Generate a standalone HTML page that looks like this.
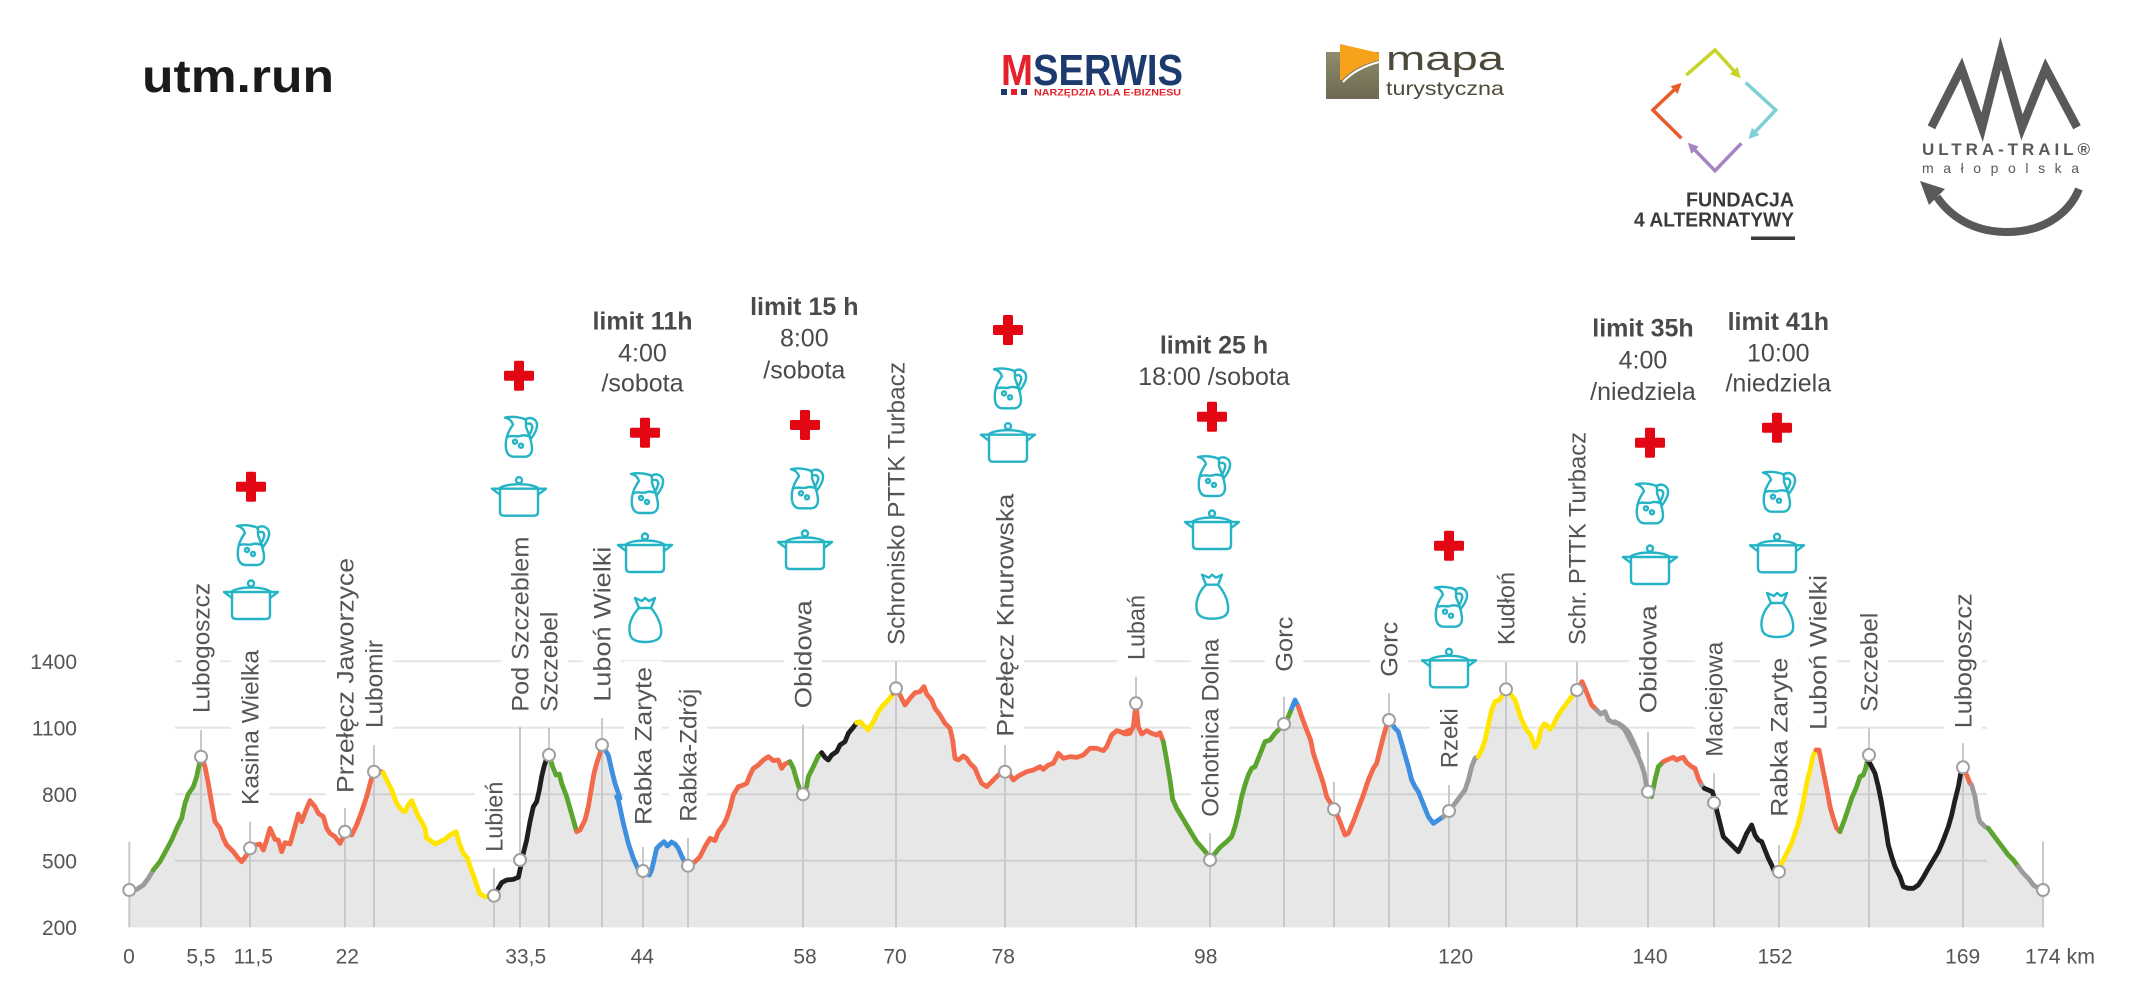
<!DOCTYPE html>
<html><head><meta charset="utf-8"><style>
html,body{margin:0;padding:0;background:#fff;}
svg{display:block;}
.pl polyline{fill:none;stroke-width:4.8;stroke-linejoin:round;stroke-linecap:round;vector-effect:non-scaling-stroke;}
.fl polygon{fill:#e7e7e7;stroke:none;}
.lbl{font-family:"Liberation Sans",sans-serif;font-size:24px;fill:#555;}
.ax{font-family:"Liberation Sans",sans-serif;font-size:21px;fill:#555;}
.lim{font-family:"Liberation Sans",sans-serif;font-size:25px;fill:#4a4a4a;text-anchor:middle;}
.ic{fill:none;stroke:#25b4c5;stroke-width:2.4;stroke-linejoin:round;stroke-linecap:round;}
</style></head><body>
<svg width="2135" height="998" viewBox="0 0 2135 998" xmlns="http://www.w3.org/2000/svg">
<defs>
<g id="cr"><rect x="-15" y="-5" width="30" height="10" rx="1.5" fill="#e30613"/><rect x="-5" y="-15" width="10" height="30" rx="1.5" fill="#e30613"/></g>
<g id="jug" class="ic">
<path d="M-14,-19 Q-8,-18 -6,-12 C-12,-4 -14,4 -13,12 C-12,18 -9,20 -5,20 L6,20 C10,20 13,17 13,12 C13,4 9,-4 7,-10 L7,-17 C3,-19 -6,-21 -14,-19 Z"/>
<path d="M6,-17 C12,-21 19,-17 18,-10 C17,-4 14,-1 12,2"/>
<path d="M9,-13 C12,-14 14,-11 13,-8 C12,-5 11,-3 10,-1"/>
<path d="M-11,0 C-6,-2 -2,1 2,-1 C5,-2 8,-1 11,0"/>
<circle cx="-4" cy="5" r="2"/><circle cx="2" cy="9" r="2"/>
</g>
<g id="pot" class="ic">
<circle cx="0" cy="-16.5" r="3"/>
<path d="M-20,-8 C-14,-14 14,-14 20,-8"/>
<path d="M-19,-2 L-27,-8 L27,-8 L19,-2"/>
<path d="M-19,-8 L-19,15 Q-19,19 -15,19 L15,19 Q19,19 19,15 L19,-8"/>
</g>
<g id="bag" class="ic">
<path d="M-6,-12 C-14,-4 -17,6 -15,14 C-14,20 -8,22 0,22 C8,22 15,20 16,14 C17,6 13,-4 6,-12"/>
<path d="M-6,-12 L-10,-22 L-3,-19 L0,-22 L4,-19 L10,-22 L6,-12 Z"/>
</g>
<marker id="ay" viewBox="0 0 10 10" refX="7" refY="5" markerWidth="3" markerHeight="3" orient="auto"><path d="M0,0 L10,5 L0,10 z" fill="#c9d42b"/></marker>
<marker id="at" viewBox="0 0 10 10" refX="7" refY="5" markerWidth="3" markerHeight="3" orient="auto"><path d="M0,0 L10,5 L0,10 z" fill="#7ecfd6"/></marker>
<marker id="ap" viewBox="0 0 10 10" refX="7" refY="5" markerWidth="3" markerHeight="3" orient="auto"><path d="M0,0 L10,5 L0,10 z" fill="#a585c3"/></marker>
<marker id="ao" viewBox="0 0 10 10" refX="7" refY="5" markerWidth="3" markerHeight="3" orient="auto"><path d="M0,0 L10,5 L0,10 z" fill="#ea5b2a"/></marker>
<linearGradient id="olive" x1="0" y1="0" x2="0" y2="1"><stop offset="0" stop-color="#8f8b6b"/><stop offset="1" stop-color="#6d6a52"/></linearGradient>
</defs>

<!-- HEADER LOGOS -->
<text x="142" y="92" font-family="Liberation Sans, sans-serif" font-weight="bold" font-size="46" fill="#1a1a1a" textLength="192" lengthAdjust="spacingAndGlyphs">utm.run</text>

<text x="1001" y="85" font-family="Liberation Sans, sans-serif" font-weight="bold" font-size="44" fill="#e4202b" textLength="32" lengthAdjust="spacingAndGlyphs">M</text>
<text x="1033" y="85" font-family="Liberation Sans, sans-serif" font-weight="bold" font-size="44" fill="#1c3a6e" textLength="150" lengthAdjust="spacingAndGlyphs">SERWIS</text>
<rect x="1001" y="89" width="6" height="6" fill="#1c3a6e"/><rect x="1011" y="89" width="6" height="6" fill="#e4202b"/><rect x="1021" y="89" width="6" height="6" fill="#1c3a6e"/>
<text x="1034" y="95.5" font-family="Liberation Sans, sans-serif" font-weight="bold" font-size="9" fill="#e4202b" textLength="147" lengthAdjust="spacingAndGlyphs">NARZĘDZIA DLA E-BIZNESU</text>

<rect x="1326" y="52" width="53" height="47" fill="url(#olive)"/>
<path d="M1340,44 L1379,53 L1379,60 Q1355,66 1342,80 L1340,80 Z" fill="#f7a21b"/>
<path d="M1379,62 Q1356,68 1343,82" stroke="#fff" stroke-width="2" fill="none"/>
<text x="1386" y="70" font-family="Liberation Sans, sans-serif" font-size="34" fill="#4d4a3c" textLength="118" lengthAdjust="spacingAndGlyphs">mapa</text>
<text x="1386" y="95" font-family="Liberation Sans, sans-serif" font-size="19" fill="#4d4a3c" textLength="118" lengthAdjust="spacingAndGlyphs">turystyczna</text>

<g fill="none" stroke-width="3.5" stroke-linejoin="miter">
<path d="M1686.4,75 L1715,50 L1738.6,76" stroke="#c9d42b" marker-end="url(#ay)"/>
<path d="M1745.7,82.7 L1775.7,110 L1750.7,136.7" stroke="#7ecfd6" marker-end="url(#at)"/>
<path d="M1741.4,143.3 L1715,170.7 L1690,145" stroke="#a585c3" marker-end="url(#ap)"/>
<path d="M1681.4,138.3 L1652.9,110 L1679.3,85" stroke="#ea5b2a" marker-end="url(#ao)"/>
</g>
<text x="1794" y="206.7" text-anchor="end" font-family="Liberation Sans, sans-serif" font-weight="bold" font-size="20" fill="#3a3a3a" textLength="108" lengthAdjust="spacingAndGlyphs">FUNDACJA</text>
<text x="1794" y="226.7" text-anchor="end" font-family="Liberation Sans, sans-serif" font-weight="bold" font-size="20" fill="#3a3a3a" textLength="160" lengthAdjust="spacingAndGlyphs">4 ALTERNATYWY</text>
<rect x="1751" y="236.5" width="44" height="3.5" fill="#3a3a3a"/>

<polyline points="1931.4,127.3 1961.4,68.3 1982.1,127.3 2000.7,53.3 2022,127.3 2045.7,68.3 2077,127.3" fill="none" stroke="#58595b" stroke-width="8.5" stroke-linejoin="miter"/>
<text x="1922" y="155" font-family="Liberation Sans, sans-serif" font-weight="bold" font-size="17" fill="#58595b" textLength="168" lengthAdjust="spacing">ULTRA-TRAIL®</text>
<text x="1922" y="173" font-family="Liberation Sans, sans-serif" font-size="14" fill="#58595b" textLength="157" lengthAdjust="spacing">małopolska</text>
<path d="M2079,189 C2068,216 2040,233 2004,232 C1972,231 1950,216 1937,197" fill="none" stroke="#58595b" stroke-width="8"/>
<path d="M1920,181 L1945,189 L1929,205 Z" fill="#58595b"/>

<!-- PROFILE FILL -->
<g class="fl">
<polygon transform="translate(100,640) scale(0.333333)" points="88,862 88,750 110,748 130,735 145,715 160,690 180,665 200,628 215,600 230,565 245,535 255,490 265,462 280,440 290,410 300,362 305,352 315,380 325,430 335,490 345,545 360,565 370,595 380,615 400,635 415,655 425,665 440,645 450,625 465,615 480,612 490,630 500,600 510,565 525,598 535,600 545,635 555,608 570,612 585,560 595,522 605,545 620,505 630,482 645,500 655,520 670,530 680,565 690,580 705,590 720,610 730,590 737,578 755,585 770,555 785,515 800,470 812,425 820,395 835,392 850,398 860,420 875,450 890,490 905,510 915,515 925,495 935,482 945,505 955,530 965,545 975,565 980,595 990,600 1005,612 1020,605 1035,598 1050,585 1068,575 1078,610 1090,640 1103,655 1110,680 1120,705 1130,735 1140,762 1155,770 1170,770 1182,765 1195,745 1205,728 1220,720 1240,718 1255,712 1262,680 1270,640 1280,600 1290,545 1300,500 1310,485 1318,450 1325,410 1332,380 1340,355 1350,352 1358,380 1368,405 1378,402 1385,430 1400,470 1410,505 1420,540 1430,575 1440,570 1455,540 1465,500 1475,440 1482,400 1490,370 1500,340 1505,315 1512,325 1525,345 1535,390 1545,430 1545,862"/>
<polygon transform="translate(610,640) scale(0.333333)" points="-15,862 -15,430 25,480 40,550 55,610 70,655 85,688 100,698 118,705 125,690 132,660 140,625 150,615 162,605 172,618 185,606 195,612 205,625 215,648 225,668 240,678 255,665 270,650 285,620 300,595 315,602 325,575 340,555 350,535 360,505 370,465 385,440 400,435 410,430 420,405 430,385 445,375 460,360 475,350 490,362 505,360 515,385 525,372 540,365 550,385 560,420 570,450 580,462 590,440 595,410 610,380 625,348 635,338 645,352 655,360 665,345 680,335 690,315 705,305 715,280 730,262 740,248 750,245 760,255 775,270 790,245 805,215 820,195 835,180 850,160 860,145 870,165 885,195 900,175 915,158 930,155 942,140 950,162 965,180 975,205 990,225 1005,250 1020,265 1028,300 1035,355 1045,360 1060,348 1070,355 1080,370 1095,385 1105,410 1115,430 1130,440 1145,425 1160,410 1175,395 1185,390 1200,405 1210,420 1225,408 1250,395 1270,390 1290,380 1300,388 1315,375 1330,370 1345,340 1360,355 1380,350 1400,352 1420,345 1440,325 1460,325 1480,332 1490,320 1505,285 1520,272 1540,278 1560,270 1560,862"/>
<polygon transform="translate(1120,640) scale(0.333333)" points="0,862 0,275 15,282 30,280 40,260 48,190 55,260 65,282 80,272 95,280 110,285 120,278 130,305 140,360 150,420 158,478 170,505 185,530 200,555 215,580 230,605 245,622 260,640 270,658 285,640 300,622 320,605 335,590 345,560 355,520 365,470 375,435 385,405 395,385 405,380 415,355 425,330 435,305 450,300 465,280 480,265 495,255 505,230 515,205 525,180 535,200 545,230 560,270 572,300 580,340 590,370 600,400 610,430 620,470 632,490 645,510 660,545 675,585 685,580 700,545 715,505 730,465 745,420 760,385 770,370 780,330 790,290 800,255 805,240 815,250 825,265 835,275 845,310 855,345 865,380 875,420 885,440 895,455 905,480 915,505 925,530 940,550 955,540 970,530 988,513 1005,490 1020,470 1035,450 1045,420 1055,380 1065,355 1075,350 1085,330 1095,300 1105,255 1115,210 1125,185 1138,180 1150,160 1158,148 1170,160 1185,180 1195,210 1205,240 1220,270 1232,285 1245,322 1255,305 1262,270 1272,252 1280,255 1290,268 1300,255 1312,230 1325,210 1340,190 1355,170 1365,155 1378,140 1386,125 1395,145 1405,170 1415,195 1430,210 1442,222 1455,215 1465,240 1480,248 1495,250 1510,260 1525,275 1540,305 1555,340 1555,862"/>
<polygon transform="translate(1615,640) scale(0.333333)" points="0,862 0,245 15,255 30,270 40,290 50,310 60,330 70,350 80,375 88,400 93,430 97,450 110,470 120,420 130,380 145,365 160,358 175,352 185,360 195,355 205,352 215,368 230,380 240,385 250,415 260,435 268,445 280,450 292,455 300,480 305,510 315,550 325,590 340,605 355,620 370,635 380,615 395,580 410,555 420,585 430,600 440,605 450,630 460,655 470,675 478,695 490,690 500,670 510,650 520,630 530,610 540,580 550,550 560,510 568,470 575,430 585,390 595,345 603,330 612,330 620,370 630,420 638,460 645,500 655,535 665,565 675,575 690,535 700,505 710,475 725,440 735,410 745,405 752,385 758,358 770,380 780,400 790,440 800,490 810,550 820,615 830,650 840,680 855,710 865,740 880,745 895,745 910,735 925,712 940,685 955,660 970,635 985,600 1000,560 1010,525 1020,480 1030,440 1038,395 1045,385 1055,405 1065,430 1070,435 1080,470 1090,530 1095,545 1110,560 1120,565 1135,585 1150,605 1165,625 1180,645 1195,660 1210,680 1225,700 1240,715 1255,735 1270,745 1285,750 1285,862"/>
</g>

<!-- GRIDLINES -->
<g stroke="rgba(0,0,0,0.1)" stroke-width="2">
<line x1="175" y1="661.3" x2="1987" y2="661.3"/>
<line x1="175" y1="727.8" x2="1987" y2="727.8"/>
<line x1="175" y1="794.3" x2="1987" y2="794.3"/>
<line x1="175" y1="860.8" x2="1987" y2="860.8"/>
</g>

<!-- label background gaps -->
<g fill="#fff">
<rect x="182" y="577" width="38" height="142"/>
<rect x="231" y="644" width="38" height="167"/>
<rect x="326" y="552" width="38" height="247"/>
<rect x="355" y="634" width="38" height="100"/>
<rect x="475" y="776" width="38" height="82"/>
<rect x="501" y="531" width="38" height="187"/>
<rect x="530" y="606" width="38" height="112"/>
<rect x="583" y="541" width="38" height="167"/>
<rect x="624" y="661" width="38" height="170"/>
<rect x="669" y="683" width="38" height="145"/>
<rect x="784" y="594" width="38" height="120"/>
<rect x="877" y="356" width="38" height="295"/>
<rect x="986" y="488" width="38" height="255"/>
<rect x="1117" y="589" width="38" height="77"/>
<rect x="1191" y="633" width="38" height="190"/>
<rect x="1265" y="611" width="38" height="67"/>
<rect x="1370" y="616" width="38" height="67"/>
<rect x="1430" y="702" width="38" height="72"/>
<rect x="1487" y="566" width="38" height="85"/>
<rect x="1558" y="426" width="38" height="225"/>
<rect x="1629" y="599" width="38" height="120"/>
<rect x="1695" y="636" width="38" height="127"/>
<rect x="1760" y="653" width="38" height="170"/>
<rect x="1799" y="569" width="38" height="167"/>
<rect x="1850" y="607" width="38" height="111"/>
<rect x="1944" y="587" width="38" height="147"/>
</g>

<!-- VERTICAL DROP LINES -->
<g stroke="#c9c9c9" stroke-width="2">
<line x1="129.3" y1="841.7" x2="129.3" y2="927.3"/>
<line x1="201" y1="730" x2="201" y2="927.3"/>
<line x1="250" y1="821.7" x2="250" y2="927.3"/>
<line x1="345" y1="808" x2="345" y2="927.3"/>
<line x1="374" y1="745" x2="374" y2="927.3"/>
<line x1="494" y1="868" x2="494" y2="927.3"/>
<line x1="520" y1="726.7" x2="520" y2="927.3"/>
<line x1="549" y1="728" x2="549" y2="927.3"/>
<line x1="602" y1="718" x2="602" y2="927.3"/>
<line x1="643" y1="847" x2="643" y2="927.3"/>
<line x1="688" y1="838" x2="688" y2="927.3"/>
<line x1="803" y1="725" x2="803" y2="927.3"/>
<line x1="896" y1="661.7" x2="896" y2="927.3"/>
<line x1="1005" y1="745" x2="1005" y2="927.3"/>
<line x1="1136" y1="676.7" x2="1136" y2="927.3"/>
<line x1="1210" y1="833" x2="1210" y2="927.3"/>
<line x1="1284" y1="696.7" x2="1284" y2="927.3"/>
<line x1="1334" y1="781.7" x2="1334" y2="927.3"/>
<line x1="1389" y1="693.3" x2="1389" y2="927.3"/>
<line x1="1449" y1="785" x2="1449" y2="927.3"/>
<line x1="1506" y1="661.7" x2="1506" y2="927.3"/>
<line x1="1577" y1="661.7" x2="1577" y2="927.3"/>
<line x1="1648" y1="731.7" x2="1648" y2="927.3"/>
<line x1="1714" y1="773.3" x2="1714" y2="927.3"/>
<line x1="1779" y1="845" x2="1779" y2="927.3"/>
<line x1="1869" y1="728.3" x2="1869" y2="927.3"/>
<line x1="1963" y1="743.3" x2="1963" y2="927.3"/>
<line x1="2043" y1="841.7" x2="2043" y2="927.3"/>
</g>

<!-- PROFILE LINES -->
<g class="pl" transform="translate(100,640) scale(0.333333)">
<polyline stroke="#9b9b9b" points="88,750 110,748 130,735 145,715 160,690"/>
<polyline stroke="#5ba42e" points="160,690 180,665 200,628 215,600 230,565 245,535 255,490 265,462 280,440 290,410 300,362"/>
<polyline stroke="#f26a4b" points="300,362 305,352 315,380 325,430 335,490 345,545 360,565 370,595 380,615 400,635 415,655 425,665 440,645 450,625 465,615 480,612 490,630 500,600 510,565 525,598 535,600 545,635 555,608 570,612 585,560 595,522 605,545 620,505 630,482 645,500 655,520 670,530 680,565 690,580 705,590 720,610 730,590 737,578 755,585 770,555 785,515 800,470 812,425 820,395 835,392 850,398"/>
<polyline stroke="#ffe500" points="850,398 860,420 875,450 890,490 905,510 915,515 925,495 935,482 945,505 955,530 965,545 975,565 980,595 990,600 1005,612 1020,605 1035,598 1050,585 1068,575 1078,610 1090,640 1103,655 1110,680 1120,705 1130,735 1140,762 1155,770 1170,770"/>
<polyline stroke="#9b9b9b" points="1170,770 1182,765 1195,745"/>
<polyline stroke="#1f1f1f" points="1195,745 1205,728 1220,720 1240,718 1255,712 1262,680 1270,640 1280,600 1290,545 1300,500 1310,485 1318,450 1325,410 1332,380 1340,355 1350,352"/>
<polyline stroke="#5ba42e" points="1350,352 1358,380 1368,405 1378,402 1385,430 1400,470 1410,505 1420,540 1430,575"/>
<polyline stroke="#f26a4b" points="1430,575 1440,570 1455,540 1465,500 1475,440 1482,400 1490,370 1500,340 1505,315"/>
<polyline stroke="#3e8fe0" points="1505,315 1512,325 1525,345 1535,390 1545,430 1560,475"/>
</g>
<g class="pl" transform="translate(610,640) scale(0.333333)">
<polyline stroke="#3e8fe0" points="20,470 25,480 40,550 55,610 70,655 85,688 100,698 118,705 125,690 132,660 140,625 150,615 162,605 172,618 185,606 195,612 205,625 215,648 225,668 240,678"/>
<polyline stroke="#f26a4b" points="240,678 255,665 270,650 285,620 300,595 315,602 325,575 340,555 350,535 360,505 370,465 385,440 400,435 410,430 420,405 430,385 445,375 460,360 475,350 490,362 505,360 515,385 525,372 540,365"/>
<polyline stroke="#5ba42e" points="540,365 550,385 560,420 570,450 580,462 590,440 595,410 610,380 625,348 635,338"/>
<polyline stroke="#1f1f1f" points="635,338 645,352 655,360 665,345 680,335 690,315 705,305 715,280 730,262 740,248"/>
<polyline stroke="#ffe500" points="740,248 750,245 760,255 775,270 790,245 805,215 820,195 835,180 850,160"/>
<polyline stroke="#f26a4b" points="850,160 860,145 870,165 885,195 900,175 915,158 930,155 942,140 950,162 965,180 975,205 990,225 1005,250 1020,265 1028,300 1035,355 1045,360 1060,348 1070,355 1080,370 1095,385 1105,410 1115,430 1130,440 1145,425 1160,410 1175,395 1185,390 1200,405 1210,420 1225,408 1250,395 1270,390 1290,380 1300,388 1315,375 1330,370 1345,340 1360,355 1380,350 1400,352 1420,345 1440,325 1460,325 1480,332 1490,320 1505,285 1520,272 1540,278 1560,270"/>
</g>
<g class="pl" transform="translate(1120,640) scale(0.333333)">
<polyline stroke="#f26a4b" points="0,275 15,282 30,280 40,260 48,190 55,260 65,282 80,272 95,280 110,285 120,278 130,305"/>
<polyline stroke="#5ba42e" points="130,305 140,360 150,420 158,478 170,505 185,530 200,555 215,580 230,605 245,622 260,640 270,658 285,640 300,622 320,605 335,590 345,560 355,520 365,470 375,435 385,405 395,385 405,380 415,355 425,330 435,305 450,300 465,280 480,265 495,255 505,230 515,205"/>
<polyline stroke="#3e8fe0" points="515,205 525,180 535,200"/>
<polyline stroke="#f26a4b" points="535,200 545,230 560,270 572,300 580,340 590,370 600,400 610,430 620,470 632,490 645,510 660,545 675,585 685,580 700,545 715,505 730,465 745,420 760,385 770,370 780,330 790,290 800,255 805,240"/>
<polyline stroke="#3e8fe0" points="805,240 815,250 825,265 835,275 845,310 855,345 865,380 875,420 885,440 895,455 905,480 915,505 925,530 940,550 955,540 970,530"/>
<polyline stroke="#9b9b9b" points="970,530 988,513 1005,490 1020,470 1035,450 1045,420 1055,380 1065,355 1075,350"/>
<polyline stroke="#ffe500" points="1075,350 1085,330 1095,300 1105,255 1115,210 1125,185 1138,180 1150,160 1158,148 1170,160 1185,180 1195,210 1205,240 1220,270 1232,285 1245,322 1255,305 1262,270 1272,252 1280,255 1290,268 1300,255 1312,230 1325,210 1340,190 1355,170 1365,155"/>
<polyline stroke="#f26a4b" points="1365,155 1378,140 1386,125 1395,145 1405,170 1415,195 1430,210"/>
<polyline stroke="#9b9b9b" points="1430,210 1442,222 1455,215 1465,240 1480,248 1495,250 1510,260 1525,275 1540,305 1555,340"/>
</g>
<g class="pl" transform="translate(1615,640) scale(0.333333)">
<polyline stroke="#9b9b9b" points="0,245 15,255 30,270 40,290 50,310 60,330 70,350 80,375 88,400 93,430 97,450"/>
<polyline stroke="#5ba42e" points="97,450 110,470 120,420 130,380 145,365"/>
<polyline stroke="#f26a4b" points="145,365 160,358 175,352 185,360 195,355 205,352 215,368 230,380 240,385 250,415 260,435"/>
<polyline stroke="#9b9b9b" points="260,435 268,445"/>
<polyline stroke="#1f1f1f" points="268,445 280,450 292,455 300,480 305,510 315,550 325,590 340,605 355,620 370,635 380,615 395,580 410,555 420,585 430,600 440,605 450,630 460,655 470,675 478,695"/>
<polyline stroke="#ffe500" points="478,695 490,690 500,670 510,650 520,630 530,610 540,580 550,550 560,510 568,470 575,430 585,390 595,345 603,330"/>
<polyline stroke="#f26a4b" points="603,330 612,330 620,370 630,420 638,460 645,500 655,535 665,565 675,575"/>
<polyline stroke="#5ba42e" points="675,575 690,535 700,505 710,475 725,440 735,410 745,405 752,385 758,358"/>
<polyline stroke="#1f1f1f" points="758,358 770,380 780,400 790,440 800,490 810,550 820,615 830,650 840,680 855,710 865,740 880,745 895,745 910,735 925,712 940,685 955,660 970,635 985,600 1000,560 1010,525 1020,480 1030,440 1038,395 1045,385"/>
<polyline stroke="#f26a4b" points="1045,385 1055,405 1065,430 1070,435"/>
<polyline stroke="#9b9b9b" points="1070,435 1080,470 1090,530 1095,545 1110,560 1120,565"/>
<polyline stroke="#5ba42e" points="1120,565 1135,585 1150,605 1165,625 1180,645 1195,660 1210,680"/>
<polyline stroke="#9b9b9b" points="1210,680 1225,700 1240,715 1255,735 1270,745 1285,750"/>
</g>

<!-- MARKERS -->
<g fill="#fff" stroke="#a0a0a0" stroke-width="2">
<circle cx="129.3" cy="890" r="6"/>
<circle cx="201" cy="756.7" r="6"/>
<circle cx="250" cy="848.3" r="6"/>
<circle cx="345" cy="831.7" r="6"/>
<circle cx="374" cy="771.7" r="6"/>
<circle cx="494" cy="895.7" r="6"/>
<circle cx="520" cy="860" r="6"/>
<circle cx="549" cy="755" r="6"/>
<circle cx="602" cy="745" r="6"/>
<circle cx="643" cy="871" r="6"/>
<circle cx="688" cy="865.7" r="6"/>
<circle cx="803" cy="794.3" r="6"/>
<circle cx="896" cy="688.3" r="6"/>
<circle cx="1005" cy="771.7" r="6"/>
<circle cx="1136" cy="703.3" r="6"/>
<circle cx="1210" cy="860" r="6"/>
<circle cx="1284" cy="724" r="6"/>
<circle cx="1334" cy="809.3" r="6"/>
<circle cx="1389" cy="720" r="6"/>
<circle cx="1449" cy="811" r="6"/>
<circle cx="1506" cy="689.3" r="6"/>
<circle cx="1577" cy="690" r="6"/>
<circle cx="1648" cy="791.7" r="6"/>
<circle cx="1714" cy="802.7" r="6"/>
<circle cx="1779" cy="871.7" r="6"/>
<circle cx="1869" cy="755" r="6"/>
<circle cx="1963" cy="767.3" r="6"/>
<circle cx="2043" cy="890" r="6"/>
</g>

<!-- CHECKPOINT LABELS -->
<g class="lbl">
<text transform="translate(209.6,713) rotate(-90)" textLength="130" lengthAdjust="spacingAndGlyphs">Lubogoszcz</text>
<text transform="translate(258.6,805) rotate(-90)" textLength="155" lengthAdjust="spacingAndGlyphs">Kasina Wielka</text>
<text transform="translate(353.6,793) rotate(-90)" textLength="235" lengthAdjust="spacingAndGlyphs">Przełęcz Jaworzyce</text>
<text transform="translate(382.6,728) rotate(-90)" textLength="88" lengthAdjust="spacingAndGlyphs">Lubomir</text>
<text transform="translate(502.6,851.7) rotate(-90)" textLength="70" lengthAdjust="spacingAndGlyphs">Lubień</text>
<text transform="translate(528.6,711.7) rotate(-90)" textLength="175" lengthAdjust="spacingAndGlyphs">Pod Szczeblem</text>
<text transform="translate(557.6,711.7) rotate(-90)" textLength="100" lengthAdjust="spacingAndGlyphs">Szczebel</text>
<text transform="translate(610.6,701.7) rotate(-90)" textLength="155" lengthAdjust="spacingAndGlyphs">Luboń Wielki</text>
<text transform="translate(651.6,825) rotate(-90)" textLength="158" lengthAdjust="spacingAndGlyphs">Rabka Zaryte</text>
<text transform="translate(696.6,821.7) rotate(-90)" textLength="133" lengthAdjust="spacingAndGlyphs">Rabka-Zdrój</text>
<text transform="translate(811.6,708.3) rotate(-90)" textLength="108" lengthAdjust="spacingAndGlyphs">Obidowa</text>
<text transform="translate(904.6,645) rotate(-90)" textLength="283" lengthAdjust="spacingAndGlyphs">Schronisko PTTK Turbacz</text>
<text transform="translate(1013.6,736.7) rotate(-90)" textLength="243" lengthAdjust="spacingAndGlyphs">Przełęcz Knurowska</text>
<text transform="translate(1144.6,660) rotate(-90)" textLength="65" lengthAdjust="spacingAndGlyphs">Lubań</text>
<text transform="translate(1218.6,816.7) rotate(-90)" textLength="178" lengthAdjust="spacingAndGlyphs">Ochotnica Dolna</text>
<text transform="translate(1292.6,671.7) rotate(-90)" textLength="55" lengthAdjust="spacingAndGlyphs">Gorc</text>
<text transform="translate(1397.6,676.7) rotate(-90)" textLength="55" lengthAdjust="spacingAndGlyphs">Gorc</text>
<text transform="translate(1457.6,768.3) rotate(-90)" textLength="60" lengthAdjust="spacingAndGlyphs">Rzeki</text>
<text transform="translate(1514.6,645) rotate(-90)" textLength="73" lengthAdjust="spacingAndGlyphs">Kudłoń</text>
<text transform="translate(1585.6,645) rotate(-90)" textLength="213" lengthAdjust="spacingAndGlyphs">Schr. PTTK Turbacz</text>
<text transform="translate(1656.6,713.3) rotate(-90)" textLength="108" lengthAdjust="spacingAndGlyphs">Obidowa</text>
<text transform="translate(1722.6,756.7) rotate(-90)" textLength="115" lengthAdjust="spacingAndGlyphs">Maciejowa</text>
<text transform="translate(1787.6,816.7) rotate(-90)" textLength="159" lengthAdjust="spacingAndGlyphs">Rabka Zaryte</text>
<text transform="translate(1826.6,730) rotate(-90)" textLength="155" lengthAdjust="spacingAndGlyphs">Luboń Wielki</text>
<text transform="translate(1877.6,711.7) rotate(-90)" textLength="99" lengthAdjust="spacingAndGlyphs">Szczebel</text>
<text transform="translate(1971.6,728.3) rotate(-90)" textLength="135" lengthAdjust="spacingAndGlyphs">Lubogoszcz</text>
</g>

<!-- Y AXIS -->
<g class="ax" text-anchor="end">
<text x="77" y="668.8">1400</text>
<text x="77" y="735.3">1100</text>
<text x="77" y="801.8">800</text>
<text x="77" y="868.3">500</text>
<text x="77" y="934.8">200</text>
</g>
<!-- X AXIS -->
<g class="ax" text-anchor="middle">
<text x="129" y="963.5">0</text>
<text x="201" y="963.5">5,5</text>
<text x="253.3" y="963.5">11,5</text>
<text x="347.3" y="963.5">22</text>
<text x="525.7" y="963.5">33,5</text>
<text x="642.3" y="963.5">44</text>
<text x="805" y="963.5">58</text>
<text x="895" y="963.5">70</text>
<text x="1003.3" y="963.5">78</text>
<text x="1205.7" y="963.5">98</text>
<text x="1455.7" y="963.5">120</text>
<text x="1650" y="963.5">140</text>
<text x="1775" y="963.5">152</text>
<text x="1962.7" y="963.5">169</text>
</g>
<text class="ax" x="2025" y="963.5" textLength="70" lengthAdjust="spacingAndGlyphs">174 km</text>

<!-- TIME LIMITS -->
<text class="lim" x="642.5" y="329.5" font-weight="bold">limit 11h</text>
<text class="lim" x="642.5" y="361.5">4:00</text>
<text class="lim" x="642.5" y="391.7">/sobota</text>
<text class="lim" x="804.3" y="315" font-weight="bold">limit 15 h</text>
<text class="lim" x="804.3" y="346.7">8:00</text>
<text class="lim" x="804.3" y="378.3">/sobota</text>
<text class="lim" x="1214" y="353.3" font-weight="bold">limit 25 h</text>
<text class="lim" x="1214" y="385">18:00 /sobota</text>
<text class="lim" x="1643" y="336.7" font-weight="bold">limit 35h</text>
<text class="lim" x="1643" y="368.3">4:00</text>
<text class="lim" x="1643" y="400">/niedziela</text>
<text class="lim" x="1778.3" y="330" font-weight="bold">limit 41h</text>
<text class="lim" x="1778.3" y="361.7">10:00</text>
<text class="lim" x="1778.3" y="391.7">/niedziela</text>

<!-- ICONS -->
<use href="#cr" x="251" y="486.7"/><use href="#jug" x="251" y="545"/><use href="#pot" x="251" y="600"/>
<use href="#cr" x="519" y="375.7"/><use href="#jug" x="519" y="436.7"/><use href="#pot" x="519" y="496.7"/>
<use href="#cr" x="645" y="432.7"/><use href="#jug" x="645" y="493"/><use href="#pot" x="645" y="553"/><use href="#bag" x="645" y="620"/>
<use href="#cr" x="805" y="425"/><use href="#jug" x="805" y="488.3"/><use href="#pot" x="805" y="550"/>
<use href="#cr" x="1008" y="330"/><use href="#jug" x="1008" y="388.3"/><use href="#pot" x="1008" y="442.7"/>
<use href="#cr" x="1212" y="416.7"/><use href="#jug" x="1212" y="476"/><use href="#pot" x="1212" y="530"/><use href="#bag" x="1212" y="596.7"/>
<use href="#cr" x="1449" y="545.7"/><use href="#jug" x="1449" y="606.7"/><use href="#pot" x="1449" y="668.3"/>
<use href="#cr" x="1650" y="442.7"/><use href="#jug" x="1650" y="503.3"/><use href="#pot" x="1650" y="565"/>
<use href="#cr" x="1777" y="427.7"/><use href="#jug" x="1777" y="491.7"/><use href="#pot" x="1777" y="553.3"/><use href="#bag" x="1777" y="615"/>
</svg>
</body></html>
